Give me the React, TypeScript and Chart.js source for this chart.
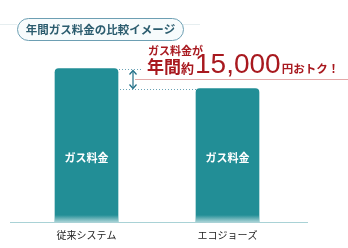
import React, { useEffect, useRef } from "react";
import { Chart, registerables } from "chart.js";

Chart.register(...registerables);

const categories = ["従来システム", "エコジョーズ"];
const gasCost = [115000, 100000];
const barLabel = "ガス料金";
const titleText = "年間ガス料金の比較イメージ";
const calloutLine1 = "ガス料金が";
const calloutPrefixBig = "年間";
const calloutPrefixSmall = "約";
const savingText = "15,000";
const calloutSuffix = "円おトク！";

const TEAL = "#228e96";
const RED = "#a8191f";
const JP = '"Noto Sans CJK JP", "Noto Sans", sans-serif';

const decorPlugin = {
  id: "decor",
  afterDatasetsDraw(chart: any) {
    const { ctx, chartArea, scales } = chart;
    const base = chartArea.bottom;
    const meta = chart.getDatasetMeta(0);
    const b0 = meta.data[0];
    const b1 = meta.data[1];
    ctx.save();
    // fade bar bottoms toward white
    [b0, b1].forEach((bar: any) => {
      const w = bar.width;
      const g = ctx.createLinearGradient(0, base - 7, 0, base + 4);
      g.addColorStop(0, "rgba(255,255,255,0)");
      g.addColorStop(1, "rgba(255,255,255,0.95)");
      ctx.fillStyle = g;
      ctx.fillRect(bar.x - w / 2, base - 7, w, 11);
    });
    // baseline
    ctx.strokeStyle = "#a9d2d6";
    ctx.lineWidth = 1;
    ctx.beginPath();
    ctx.moveTo(10, Math.round(base) + 0.5);
    ctx.lineTo(308, Math.round(base) + 0.5);
    ctx.stroke();

    // bar labels
    const labelY = scales.y.getPixelForValue(48000);
    ctx.fillStyle = "#ffffff";
    ctx.font = `bold 11px ${JP}`;
    ctx.textAlign = "center";
    ctx.textBaseline = "middle";
    [b0, b1].forEach((bar: any) => ctx.fillText(barLabel, bar.x, labelY));

    // dotted guide lines
    const right0 = b0.x + b0.width / 2;
    const left1 = b1.x - b1.width / 2;
    const top0 = Math.round(b0.y) + 0.5;
    const top1 = Math.round(b1.y) + 0.5;
    ctx.strokeStyle = "#6aa2b5";
    ctx.setLineDash([1, 2]);
    ctx.beginPath();
    ctx.moveTo(right0 + 1, top0);
    ctx.lineTo(right0 + 24, top0);
    ctx.moveTo(right0 + 2, top1);
    ctx.lineTo(left1, top1);
    ctx.stroke();
    ctx.setLineDash([]);

    // red line
    const redY = 79.5;
    ctx.strokeStyle = "#e3a9a9";
    ctx.beginPath();
    ctx.moveTo(right0 + 17, redY);
    ctx.lineTo(348, redY);
    ctx.stroke();

    // double arrow
    const ax = right0 + 15;
    ctx.strokeStyle = "#1f6e86";
    ctx.lineWidth = 1.2;
    ctx.beginPath();
    ctx.moveTo(ax, top0 + 2);
    ctx.lineTo(ax, top1 - 2);
    ctx.stroke();
    ctx.beginPath();
    ctx.moveTo(ax - 3.5, top0 + 5);
    ctx.lineTo(ax, top0 + 1);
    ctx.lineTo(ax + 3.5, top0 + 5);
    ctx.stroke();
    ctx.beginPath();
    ctx.moveTo(ax - 3.5, top1 - 5);
    ctx.lineTo(ax, top1 - 1);
    ctx.lineTo(ax + 3.5, top1 - 5);
    ctx.stroke();

    // callout text
    ctx.fillStyle = RED;
    ctx.textAlign = "left";
    ctx.textBaseline = "alphabetic";
    ctx.font = `bold 11px ${JP}`;
    ctx.fillText(calloutLine1, 148, 55);
    ctx.font = `bold 17px ${JP}`;
    ctx.fillText(calloutPrefixBig, 147, 73);
    let x = 147 + ctx.measureText(calloutPrefixBig).width;
    ctx.font = `bold 13px ${JP}`;
    ctx.fillText(calloutPrefixSmall, x, 73);
    x += ctx.measureText(calloutPrefixSmall).width + 1;
    ctx.font = `28px "Liberation Sans", Arial, sans-serif`;
    ctx.fillText(savingText, x, 73);
    x += ctx.measureText(savingText).width + 1;
    ctx.font = `bold 11.5px ${JP}`;
    ctx.fillText(calloutSuffix, x, 73);

    // title pill
    const px = 17, py = 18, pw = 166, ph = 22, r = 11;
    ctx.strokeStyle = "#e6eef0";
    ctx.beginPath();
    ctx.moveTo(0, 24.5);
    ctx.lineTo(px, 24.5);
    ctx.moveTo(px + pw, 24.5);
    ctx.lineTo(200, 24.5);
    ctx.stroke();
    ctx.beginPath();
    ctx.roundRect(px + 0.5, py + 0.5, pw, ph, r);
    ctx.fillStyle = "#f7fbfc";
    ctx.fill();
    ctx.strokeStyle = "#6d9fb3";
    ctx.lineWidth = 1;
    ctx.stroke();
    ctx.fillStyle = "#2b5c6e";
    ctx.font = `bold 11.5px ${JP}`;
    ctx.textAlign = "center";
    ctx.textBaseline = "middle";
    ctx.fillText(titleText, px + pw / 2 + 0.5, py + ph / 2 + 1);
    ctx.restore();
  },
};

export default function App() {
  const ref = useRef<HTMLCanvasElement>(null);
  useEffect(() => {
    if (!ref.current) return;
    const chart = new Chart(ref.current, {
      type: "bar",
      data: {
        labels: categories,
        datasets: [
          {
            data: gasCost,
            backgroundColor: TEAL,
            borderRadius: { topLeft: 4, topRight: 4, bottomLeft: 0, bottomRight: 0 },
            borderSkipped: false,
            barThickness: 63,
          },
        ],
      },
      options: {
        animation: false,
        responsive: false,
        maintainAspectRatio: false,
        layout: { padding: { left: 16, right: 50, top: 22, bottom: 0 } },
        plugins: { legend: { display: false }, tooltip: { enabled: false } },
        scales: {
          x: {
            grid: { display: false, drawTicks: false },
            border: { display: false },
            ticks: {
              color: "#222",
              font: { family: "Noto Sans CJK JP", size: 10 },
              padding: 7,
            },
          },
          y: {
            display: false,
            min: 0,
            max: 150000,
          },
        },
      },
      plugins: [decorPlugin],
    });
    return () => chart.destroy();
  }, []);
  return (
    <div style={{ position: "fixed", left: 0, top: 0, width: 348, height: 248, background: "#fff" }}>
      <canvas ref={ref} width={348} height={248} style={{ width: 348, height: 248 }} />
    </div>
  );
}
